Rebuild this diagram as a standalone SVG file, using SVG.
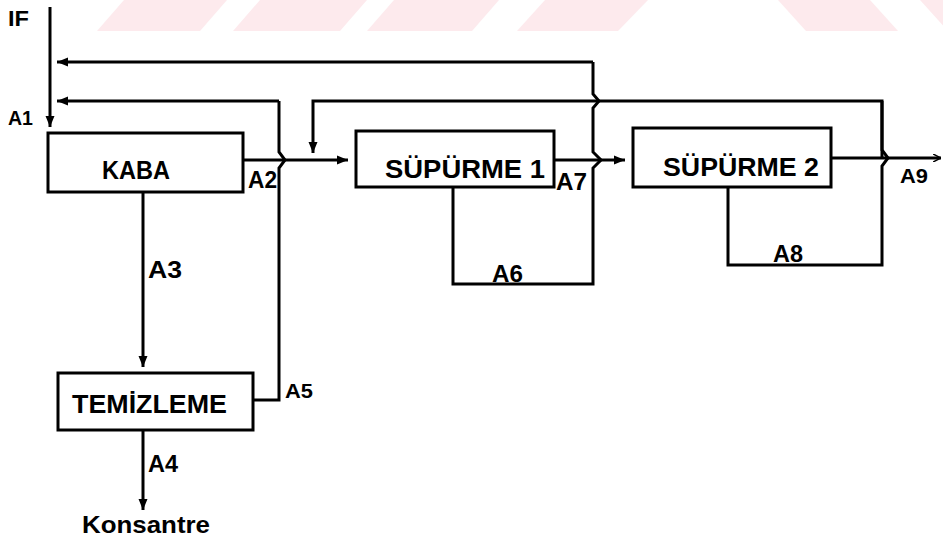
<svg xmlns="http://www.w3.org/2000/svg" width="943" height="538" viewBox="0 0 943 538">
<defs>
<style>
.bg{fill:#ffffff}
.wm{fill:#fdeaed}
.box{fill:#ffffff;stroke:#000;stroke-width:3}
.ln{fill:none;stroke:#000;stroke-width:3;stroke-linejoin:miter}
.t{font-family:"Liberation Sans",Arial,sans-serif;font-weight:bold;fill:#000}
.big{font-size:26px}
.lab{font-size:23px}
</style>
<marker id="ah" markerUnits="userSpaceOnUse" markerWidth="11" markerHeight="10" refX="11" refY="5" orient="auto">
<path d="M0,0.5 L11,5 L0,9.5 Z" fill="#000"/>
</marker>
<marker id="ahs" markerUnits="userSpaceOnUse" markerWidth="8" markerHeight="8" refX="8" refY="4" orient="auto">
<path d="M0,0 L8,4 L0,8" fill="none" stroke="#000" stroke-width="1.5"/>
</marker>
</defs>
<rect class="bg" x="0" y="0" width="943" height="538"/>
<g id="watermark">
<polygon class="wm" points="97,31 200,31 227,0 124,0"/>
<polygon class="wm" points="233,31 340,31 367,0 260,0"/>
<polygon class="wm" points="367,31 472,31 499,0 394,0"/>
<polygon class="wm" points="517,31 618,31 648,0 545,0"/>
<polygon class="wm" points="778,0 870,0 898,31 806,31"/>
<polygon class="wm" points="920,0 980,0 1008,31 948,31"/>
</g>
<g id="connectors">
<path class="ln" d="M50 7 V127" marker-end="url(#ah)"/>
<path class="ln" d="M593 62 H57" marker-end="url(#ah)"/>
<path class="ln" d="M279 101 H57" marker-end="url(#ah)"/>
<path class="ln" d="M253 400 H279 V168 L285 160 L279 152 V101"/>
<path class="ln" d="M243 160 H348" marker-end="url(#ah)"/>
<path class="ln" d="M882 158 V101 H313 V153" marker-end="url(#ah)"/>
<path class="ln" d="M453 187 V284 H593 V168 L601 160 L593 152 V108 L599 101 L593 94 V62"/>
<path class="ln" d="M554 160 H625" marker-end="url(#ah)"/>
<path class="ln" d="M728 187 V265 H882 V166 L888 158 L882 150 V101"/>
<path class="ln" d="M831 158 H941" marker-end="url(#ahs)"/>
<path class="ln" d="M143 192 V367" marker-end="url(#ah)"/>
<path class="ln" d="M143 430 V510" marker-end="url(#ah)"/>
</g>
<g id="kaba">
<rect class="box" x="48" y="133" width="195" height="59"/>
<text class="t big" x="102" y="179" textLength="68" lengthAdjust="spacingAndGlyphs">KABA</text>
</g>
<g id="supurme1">
<rect class="box" x="356" y="131" width="198" height="56"/>
<text class="t big" x="385" y="178" textLength="160" lengthAdjust="spacingAndGlyphs">SÜPÜRME 1</text>
</g>
<g id="supurme2">
<rect class="box" x="633" y="128" width="198" height="59"/>
<text class="t big" x="663" y="176" textLength="156" lengthAdjust="spacingAndGlyphs">SÜPÜRME 2</text>
</g>
<g id="temizleme">
<rect class="box" x="58" y="373" width="195" height="57"/>
<text class="t big" x="72" y="413" textLength="155" lengthAdjust="spacingAndGlyphs">TEMİZLEME</text>
</g>
<g id="labels">
<text class="t" font-size="22" x="8" y="26" textLength="21" lengthAdjust="spacingAndGlyphs">IF</text>
<text class="t" font-size="20" x="8" y="125" textLength="25" lengthAdjust="spacingAndGlyphs">A1</text>
<text class="t lab" x="248" y="188" textLength="29" lengthAdjust="spacingAndGlyphs">A2</text>
<text class="t lab" x="148" y="278" textLength="34" lengthAdjust="spacingAndGlyphs">A3</text>
<text class="t lab" x="148" y="472" textLength="30" lengthAdjust="spacingAndGlyphs">A4</text>
<text class="t" font-size="21" x="285" y="398" textLength="28" lengthAdjust="spacingAndGlyphs">A5</text>
<text class="t lab" x="492" y="282" textLength="31" lengthAdjust="spacingAndGlyphs">A6</text>
<text class="t lab" x="556" y="190" textLength="31" lengthAdjust="spacingAndGlyphs">A7</text>
<text class="t lab" x="773" y="262" textLength="30" lengthAdjust="spacingAndGlyphs">A8</text>
<text class="t" font-size="21" x="900" y="183" textLength="28" lengthAdjust="spacingAndGlyphs">A9</text>
<text class="t" font-size="24" x="82" y="533" textLength="128" lengthAdjust="spacingAndGlyphs">Konsantre</text>
</g>
</svg>
